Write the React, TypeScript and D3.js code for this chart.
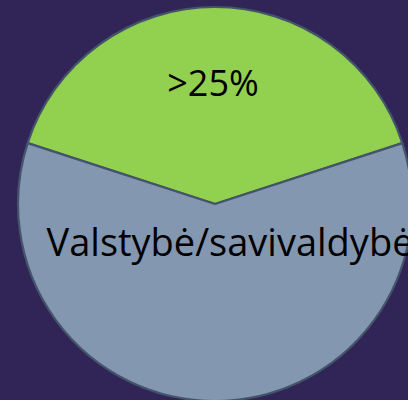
import React from "react";
import * as d3 from "d3";

const categories = [">25%", "Valstybė/savivaldybė"];
const values = [40, 60];
const colors = ["#92D050", "#8497B0"];
// label radial distance as fraction of radius (Excel-like label placement)
const labelRadius = [0.615, 0.19];
const labelShiftX = [-2, 15];
const labelSize = [36, 38];

const W = 408;
const H = 400;

export default function App() {
  const cx = 215;
  const cy = 204;
  const r = 197;
  const pie = d3
    .pie<number>()
    .sort(null)
    .startAngle(-0.4 * Math.PI)
    .endAngle(1.6 * Math.PI)
    .value((d) => d);
  const arcs = pie(values);
  const arc = d3.arc<d3.PieArcDatum<number>>().innerRadius(0).outerRadius(r);

  return (
    <div style={{ position: "fixed", left: 0, top: 0, width: W, height: H }}>
      <svg width={W} height={H} style={{ display: "block" }}>
        <rect x={0} y={0} width={W} height={H} fill="#312557" />
        <g transform={`translate(${cx},${cy})`}>
          {arcs.map((a, i) => (
            <path
              key={i}
              d={arc(a) || ""}
              fill={colors[i]}
              stroke="#44546A"
              strokeWidth={2.2}
              strokeLinejoin="round"
            />
          ))}
          {arcs.map((a, i) => {
            const mid = (a.startAngle + a.endAngle) / 2;
            const rr = r * labelRadius[i];
            const x = Math.sin(mid) * rr + labelShiftX[i];
            const y = -Math.cos(mid) * rr;
            return (
              <text
                key={"t" + i}
                x={x}
                y={y}
                textAnchor="middle"
                dominantBaseline="central"
                fontFamily="'Open Sans', sans-serif"
                fontSize={labelSize[i]}
                fill="#000000"
              >
                {categories[i]}
              </text>
            );
          })}
        </g>
      </svg>
    </div>
  );
}
